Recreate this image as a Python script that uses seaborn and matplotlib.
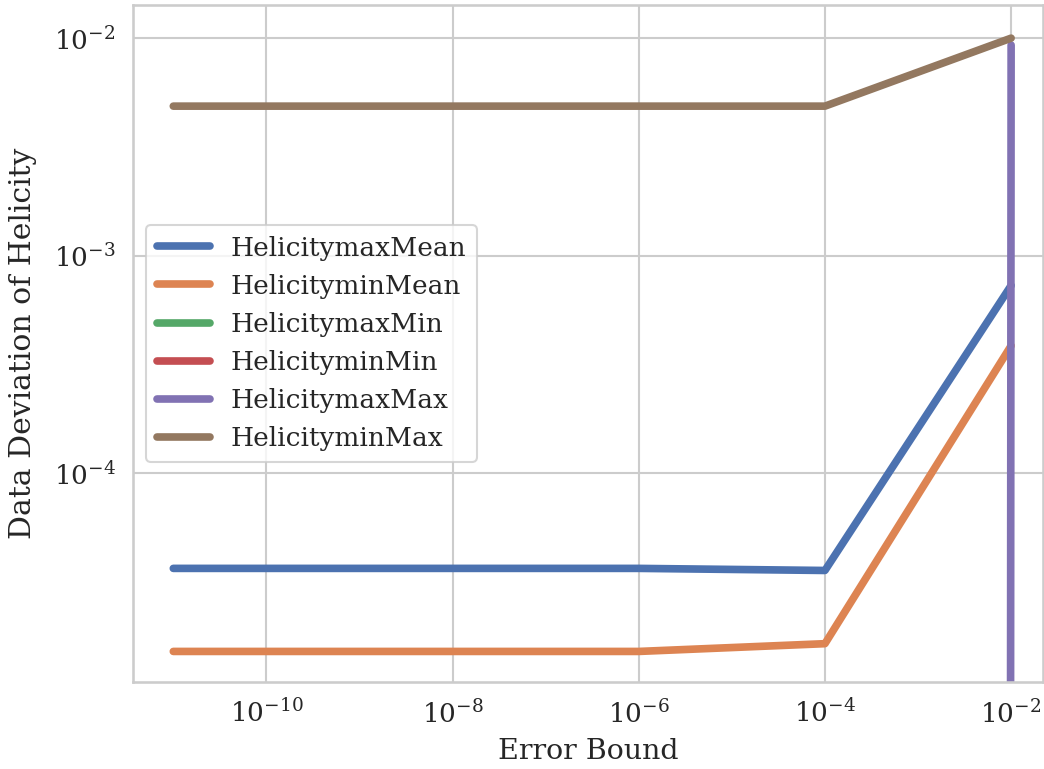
import numpy as np
import pandas as pd
import matplotlib
matplotlib.use("Agg")
import matplotlib.pyplot as plt
import seaborn as sns

# Error bounds tested and the resulting helicity deviation per metric
error_bounds = [1e-11, 1e-6, 1e-4, 1e-2]
helicity_max_mean = [3.66e-5, 3.66e-5, 3.58e-5, 7.3e-4]
helicity_min_mean = [1.52e-5, 1.52e-5, 1.65e-5, 3.86e-4]
helicity_max_min = [0.0, 0.0, 0.0, 0.0]
helicity_min_min = [0.0, 0.0, 0.0, 0.0]
helicity_max_max = [0.0, 0.0, 0.0, 9.3e-3]
helicity_min_max = [4.87e-3, 4.87e-3, 4.87e-3, 1.0e-2]

series = {
    "HelicitymaxMean": helicity_max_mean,
    "HelicityminMean": helicity_min_mean,
    "HelicitymaxMin": helicity_max_min,
    "HelicityminMin": helicity_min_min,
    "HelicitymaxMax": helicity_max_max,
    "HelicityminMax": helicity_min_max,
}

frames = []
for name, vals in series.items():
    frames.append(pd.DataFrame({"Error Bound": error_bounds,
                                "value": vals,
                                "metric": name}))
df = pd.concat(frames, ignore_index=True)

sns.set_theme(style="whitegrid", context="talk", font="DejaVu Serif")
plt.rcParams["font.family"] = ["DejaVu Serif"]

fig = plt.figure(figsize=(10.44, 7.69), dpi=100)
ax = fig.add_axes([133 / 1044, 1 - 682 / 769, 910 / 1044, 677 / 769])

sns.lineplot(data=df, x="Error Bound", y="value", hue="metric",
             palette="deep", linewidth=5.5, ax=ax, sort=True)

ax.set_xscale("log")
ax.set_yscale("log")
ax.set_xlim(3.69e-12, 2.2e-2)
ax.set_ylim(1.1e-5, 1.42e-2)
ax.set_xticks([1e-10, 1e-8, 1e-6, 1e-4, 1e-2])
ax.set_yticks([1e-4, 1e-3, 1e-2])
ax.minorticks_off()
ax.tick_params(labelsize=19)

ax.set_xlabel("Error Bound", fontsize=20.5, labelpad=7)
ax.set_ylabel("Data Deviation of Helicity", fontsize=21.5, labelpad=12)

leg = ax.legend(loc="center left", fontsize=19, title=None)
for line in leg.get_lines():
    line.set_linewidth(5.5)

fig.savefig("out.png", dpi=100)
